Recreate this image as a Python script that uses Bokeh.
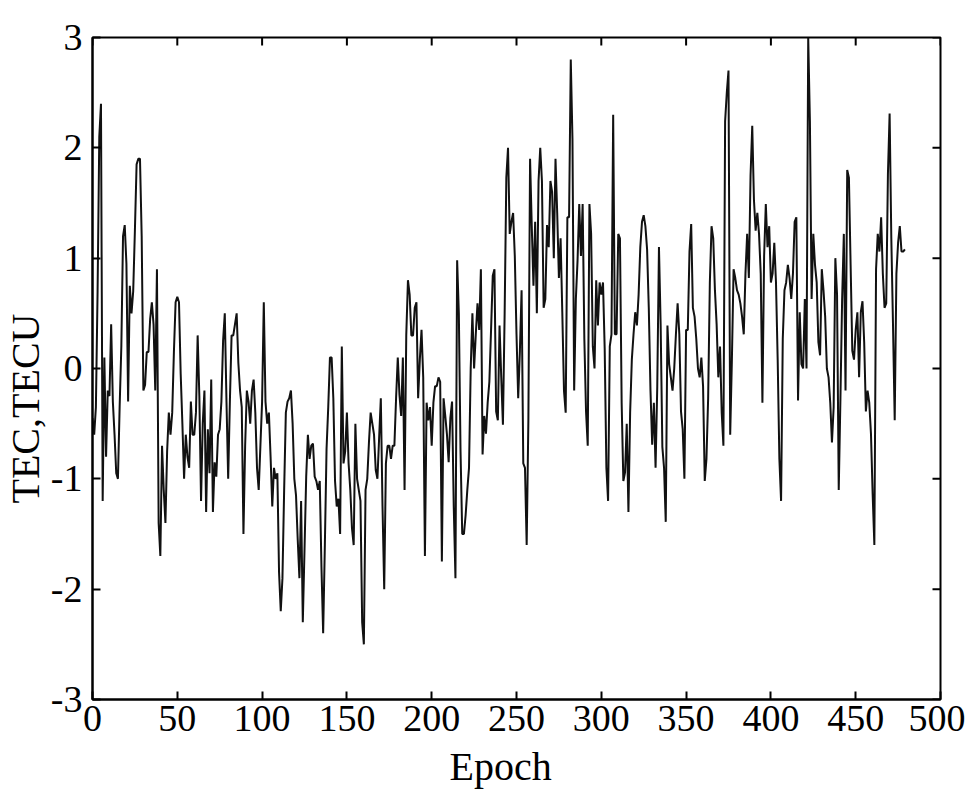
import math
from bokeh.plotting import figure
from bokeh.models import Range1d, FixedTicker, Title
from bokeh.embed import file_html
from bokeh.resources import INLINE

# TEC residual series (TECU), one value per epoch in segments
tec_seg1 = [-0.45, -0.6, -0.35, 0.7, 2.1, 2.4, -1.2, 0.1, -0.8, -0.2,
            -0.25, 0.4, -0.3, -0.6, -0.95, -1.0, -0.35, 0.2, 1.2, 1.3,
            0.95, -0.3, 0.75, 0.5, 0.7, 1.25, 1.85, 1.9, 1.9, 1.2,
            -0.2, -0.15, 0.15, 0.15, 0.45, 0.6, 0.4, -0.2, 0.9, -1.4,
            -1.7, -0.7, -1.1, -1.4, -0.75, -0.4, -0.6, -0.4, 0.15, 0.6]
tec_seg2 = [0.65, 0.6, -0.05, -0.5, -1.0, -0.6, -0.8, -0.9, -0.3, -0.6,
            -0.6, -0.4, 0.3, -0.25, -1.2, -0.5, -0.2, -1.3, -0.55, -0.95,
            -0.1, -1.3, -0.85, -0.98, -0.6, -0.55, -0.3, 0.25, 0.5, -0.3,
            -1.0, -0.3, 0.3, 0.3, 0.4, 0.5, 0.05, -0.2, -0.35, -1.5,
            -0.7, -0.2, -0.3, -0.5, -0.2, -0.1, -0.4, -0.9, -1.1, -0.7,
            -0.3, 0.6, -0.3]
tec_seg3 = [-0.5, -0.4, -0.8, -1.25, -0.9, -1.0, -0.95, -1.85, -2.2, -1.9,
            -1.1, -0.4, -0.3, -0.27, -0.2, -0.5, -1.0, -1.15, -1.55, -1.9,
            -1.2, -2.3, -1.65, -0.98, -0.6, -0.82, -0.7, -0.68, -0.98, -1.02,
            -1.1, -1.02, -1.8, -2.4, -1.6, -0.73, -0.35, 0.1, 0.1, -0.27,
            -1.02, -1.25, -1.18, -1.5, 0.2, -0.86, -0.75, -0.4, -0.86, -1.1,
            -1.45, -1.6, -0.5]
tec_seg4 = [-1.0, -1.1, -1.2, -2.3, -2.5, -1.1, -1.0, -0.67, -0.4, -0.5,
            -0.6, -0.92, -1.0, -0.63, -0.27, -1.25, -2.0, -0.86, -0.7, -0.7,
            -0.82, -0.7, -0.7, -0.27, 0.1, -0.24, -0.43, 0.1, -1.1, 0.3,
            0.8, 0.67, 0.3, 0.3, 0.55, 0.6, -0.27, 0.08, 0.35, -0.08,
            -1.7, -0.31, -0.47, -0.35, -0.7, -0.31, -0.16, -0.16, -0.08, -0.12,
            -1.75, -0.27, -0.43]
tec_seg5 = [-0.6, -0.85, -0.45, -0.3, -1.25, -1.9, 0.98, 0.5, -0.75, -1.5,
            -1.5, -1.33, -1.1, -0.9, 0.0, 0.5, 0.0, 0.31, 0.59, 0.35,
            0.9, -0.78, -0.43, -0.59, -0.31, -0.12, 0.35, 0.84, 0.9, -0.39,
            -0.47, 0.39, -0.08, -0.51, 0.49, 1.73, 2.0, 1.22, 1.33, 1.41,
            1.02, 0.31, -0.27, 0.16, 0.71, -0.86, -0.9, -1.6, -0.47, 1.9,
            1.29, 0.75, 1.33]
tec_seg6 = [0.5, 1.7, 2.0, 1.7, 0.55, 0.63, 1.3, 1.1, 1.7, 1.6,
            1.0, 1.9, 1.41, 0.82, 1.18, 0.51, -0.2, -0.4, 1.37, 1.37,
            2.8, 2.08, -0.2, 0.63, 0.98, 1.49, 1.02, 1.49, 0.27, -0.39,
            -0.7, 1.49, 1.22, 0.2, 0.0, 0.8, 0.39, 0.78, 0.67, 0.78,
            0.18, -0.9, -1.2, 0.2, 0.31, 2.3, 0.31, 0.31, 1.22, 1.18,
            -0.31, -1.02, -0.94]
tec_seg7 = [-0.5, -1.3, -0.4, 0.08, 0.31, 0.51, 0.39, 0.67, 1.1, 1.33,
            1.39, 1.29, 1.08, 0.55, -0.2, -0.69, -0.31, -0.9, -0.16, 1.1,
            0.39, -0.71, -0.9, -1.39, 0.39, 0.04, -0.08, -0.2, 0.0, 0.31,
            0.59, 0.31, -0.39, -0.55, -1.0, 0.35, 0.35, 1.06, 1.31, 0.55,
            0.47, 0.27, 0.0, -0.08, 0.1, -0.16, -1.02, -0.82, -0.27, 0.78,
            1.29, 1.18, 0.71]
tec_seg8 = [0.4, -0.08, 0.2, -0.4, -0.7, 2.24, 2.5, 2.7, -0.6, 0.08,
            0.9, 0.82, 0.71, 0.67, 0.59, 0.47, 0.31, 0.86, 1.22, 0.82,
            1.75, 2.2, 1.53, 1.25, 1.41, 1.22, 0.86, -0.31, 1.02, 1.49,
            1.1, 1.29, 0.78, 0.86, 1.14, 0.78, 0.08, -0.82, -1.2, 0.27,
            0.71, 0.78, 0.94, 0.82, 0.63, 0.86, 1.33, 1.37, -0.29, 0.51,
            0.04, 0.0, 0.63]
tec_seg9 = [0.0, 3.0, 2.24, 0.63, 1.22, 0.94, 0.78, 0.24, 0.12, 0.9,
            0.71, 0.47, 0.0, -0.08, -0.31, -0.67, -0.35, 1.0, 0.67, -1.1,
            -0.27, 0.63, 1.22, -0.2, 1.8, 1.73, 0.94, 0.16, 0.08, 0.35,
            0.51, -0.08, 0.51, 0.61, 0.24, -0.39, -0.2, -0.31, -0.59, -1.14,
            -1.6, 0.9, 1.22, 1.06, 1.37]
tec_seg10 = [0.86, 0.55, 0.59, 1.76, 2.31, 1.18, 0.39, -0.47, 0.86, 1.14,
             1.29, 1.06, 1.06, 1.08]

tec = (tec_seg1 + tec_seg2 + tec_seg3 + tec_seg4 + tec_seg5 + tec_seg6 +
       tec_seg7 + tec_seg8 + tec_seg9 + tec_seg10)
epoch = list(range(len(tec)))

x_ticks = [0, 50, 100, 150, 200, 250, 300, 350, 400, 450, 500]
y_ticks = [-3, -2, -1, 0, 1, 2, 3]
y_tick_labels = ["-3", "-2", "-1", "0", "1", "2", "3"]
x_title = "Epoch"
y_title = "TEC,TECU"
x_min, x_max = 0, 500
y_min, y_max = -3, 3

FONT = "Liberation Serif"

p = figure(width=965, height=811, output_backend="svg", toolbar_location=None,
           x_range=Range1d(x_min, x_max), y_range=Range1d(y_min, y_max),
           min_border_left=91, min_border_right=25, min_border_top=37,
           min_border_bottom=112)
p.line(epoch, tec, line_color="#111111", line_width=2.0)

p.grid.visible = False
p.outline_line_color = "black"
p.outline_line_width = 2
p.background_fill_color = "white"
p.border_fill_color = "white"

p.xaxis.ticker = FixedTicker(ticks=x_ticks)
p.yaxis.ticker = FixedTicker(ticks=y_ticks)
p.yaxis.major_label_overrides = {t: s for t, s in zip(y_ticks, y_tick_labels)}

for ax in (p.xaxis[0], p.yaxis[0]):
    ax.major_tick_in = 8
    ax.major_tick_out = 0
    ax.minor_tick_in = 0
    ax.minor_tick_out = 0
    ax.axis_line_width = 2
    ax.major_tick_line_width = 2
    ax.major_label_text_font = FONT
    ax.major_label_text_font_size = "38px"
    ax.major_label_text_color = "black"

p.xaxis.major_label_standoff = 6
p.yaxis.major_label_standoff = 10

# inward ticks on the top and right frame edges (box style)
p.ray(x=x_ticks, y=[y_max] * len(x_ticks), length=8, length_units="screen",
      angle=-math.pi / 2, line_color="black", line_width=2)
p.ray(x=[x_max] * len(y_ticks), y=y_ticks, length=8, length_units="screen",
      angle=math.pi, line_color="black", line_width=2)

# axis titles as side panels, placed as in the reference
p.add_layout(Title(text=x_title, align="left", offset=357, standoff=16,
                   text_font=FONT, text_font_size="40px", text_font_style="normal",
                   text_color="black"), "below")
p.add_layout(Title(text=y_title, align="left", offset=196, standoff=0,
                   text_font=FONT, text_font_size="40px", text_font_style="normal",
                   text_color="black"), "left")

open("out.html", "w").write(file_html(p, INLINE))
